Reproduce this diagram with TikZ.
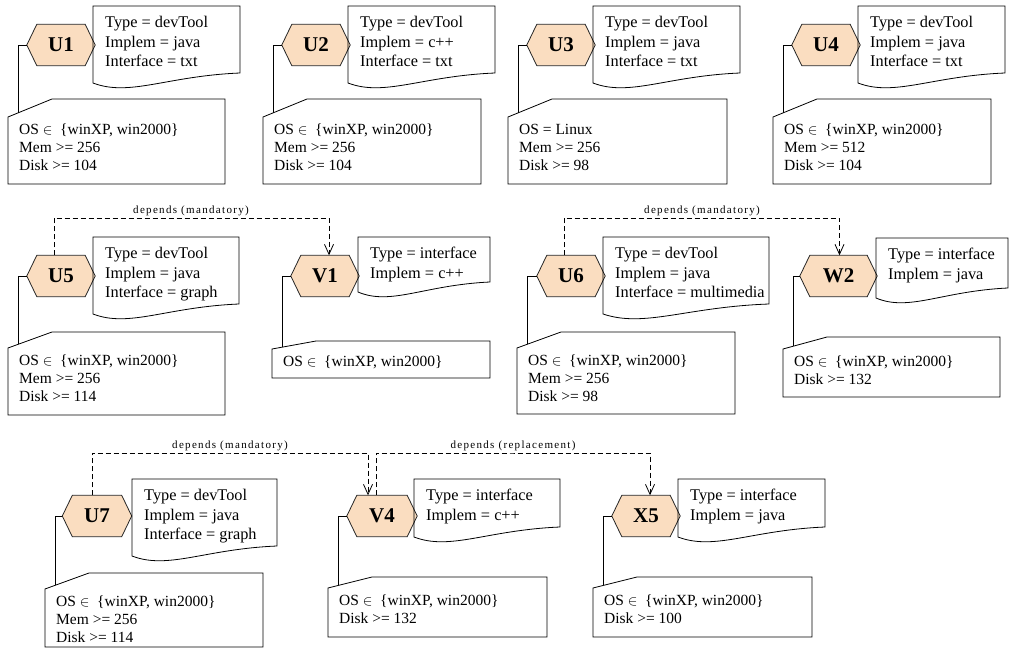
\documentclass[tikz,border=0pt]{standalone}
\usepackage{fontspec}
\setmainfont{Liberation Serif}
\newfontfamily\depfont[LetterSpace=12]{Liberation Serif}
\usetikzlibrary{arrows.meta,calc}
\pgfdeclarelayer{background}
\pgfsetlayers{background,main}
\definecolor{hexfill}{RGB}{250,221,192}
\tikzset{
 hexlbl/.style={minimum height=41pt, inner sep=0pt, font=\bfseries\fontsize{21}{21}\selectfont},
 hexshape/.style={draw=black!85, fill=hexfill, line width=0.8pt},
 boxline/.style={draw=black, line width=0.8pt},
 uptext/.style={anchor=north west, inner sep=0pt, align=left, font=\fontsize{16.3}{19.5}\selectfont},
 lowtext/.style={anchor=north west, inner sep=0pt, align=left, font=\fontsize{15.5}{18}\selectfont},
 conn/.style={draw=black, line width=0.8pt},
 dep/.style={draw=black, line width=0.8pt, dash pattern=on 5pt off 3pt},
 deparrow/.style={dep, -{Straight Barb[length=10pt,width=9pt]}},
 deplbl/.style={inner sep=0pt, above=2pt, font=\depfont\fontsize{11}{12}\selectfont},
}
\newcommand{\mkhex}[4]{%
  \node[hexlbl, minimum width=#4pt] (#1) at (#2,#3) {#1};
  \begin{pgfonlayer}{background}
  \draw[hexshape] (#1.west) -- ([xshift=10pt]#1.north west) -- ([xshift=-10pt]#1.north east) -- (#1.east) -- ([xshift=-10pt]#1.south east) -- ([xshift=10pt]#1.south west) -- cycle;
  \end{pgfonlayer}}
\newcommand{\mkup}[6]{%
  \draw[boxline] (#2,#4) -- (#3,#4) -- (#3,#5) .. controls ({#2+0.5*(#3-#2)},{#5+3}) and ({#2+0.25*(#3-#2)},{#5+24}) .. (#2,{#5+10}) -- cycle;
  \node[uptext] (#1u) at ({#2+12},{#4+10}) {#6};}
\newcommand{\mklow}[7]{%
  \draw[boxline] (#2,#5) -- ({#2+44},#4) -- (#3,#4) -- (#3,#6) -- (#2,#6) -- cycle;
  \coordinate (#1s) at ($(#2,#5)!0.23!({#2+44},#4)$);
  \node[lowtext] (#1l) at ({#2+11},{#5+7}) {#7};}
\newcommand{\mkconn}[1]{\draw[conn] (#1.west) -| (#1s);}
\newcommand{\OSwin}{OS $\in$ \ \{winXP, win2000\}}
\begin{document}
\begin{tikzpicture}[x=1pt,y=-1pt]
\begin{pgfonlayer}{background}
\fill[white] (0,0) rectangle (1012,658);
\end{pgfonlayer}
\useasboundingbox (0,0) rectangle (1012,658);
% ---------- row 1 ----------
\mkup{U1}{93}{240}{6}{73}{Type = devTool\\Implem = java\\Interface = txt}
\mklow{U1}{8}{225}{99}{117}{184}{\OSwin\\Mem >= 256\\Disk >= 104}
\mkhex{U1}{61}{45}{68}
\mkconn{U1}
\mkup{U2}{348}{495}{6}{73}{Type = devTool\\Implem = c++\\Interface = txt}
\mklow{U2}{263}{481}{99}{117}{184}{\OSwin\\Mem >= 256\\Disk >= 104}
\mkhex{U2}{316}{45}{68}
\mkconn{U2}
\mkup{U3}{593}{740}{6}{73}{Type = devTool\\Implem = java\\Interface = txt}
\mklow{U3}{508}{727}{99}{117}{184}{OS = Linux\\Mem >= 256\\Disk >= 98}
\mkhex{U3}{561}{45}{68}
\mkconn{U3}
\mkup{U4}{858}{1005}{6}{73}{Type = devTool\\Implem = java\\Interface = txt}
\mklow{U4}{773}{991}{99}{117}{184}{\OSwin\\Mem >= 512\\Disk >= 104}
\mkhex{U4}{826}{45}{68}
\mkconn{U4}
% ---------- row 2 ----------
\mkup{U5}{93}{239}{237}{304}{Type = devTool\\Implem = java\\Interface = graph}
\mklow{U5}{8}{225}{332}{348}{415}{\OSwin\\Mem >= 256\\Disk >= 114}
\mkhex{U5}{61}{276}{68}
\mkconn{U5}
\mkup{V1}{358}{490}{237}{282}{Type = interface\\Implem = c++}
\mklow{V1}{272}{490}{341}{349}{378}{\OSwin}
\mkhex{V1}{325}{276}{68}
\mkconn{V1}
\mkup{U6}{603}{769}{237}{304}{Type = devTool\\Implem = java\\Interface = multimedia}
\mklow{U6}{517}{735}{332}{348}{414}{\OSwin\\Mem >= 256\\Disk >= 98}
\mkhex{U6}{571}{276}{68}
\mkconn{U6}
\mkup{W2}{876}{1008}{238}{288}{Type = interface\\Implem = java}
\mklow{W2}{783}{1000}{337}{349}{397}{\OSwin\\Disk >= 132}
\mkhex{W2}{838.5}{276}{77}
\mkconn{W2}
% ---------- row 3 ----------
\mkup{U7}{132}{277}{479}{546}{Type = devTool\\Implem = java\\Interface = graph}
\mklow{U7}{45}{263}{573}{589}{647}{\OSwin\\Mem >= 256\\Disk >= 114}
\mkhex{U7}{97}{516}{69}
\mkconn{U7}
\mkup{V4}{414}{560}{479}{527}{Type = interface\\Implem = c++}
\mklow{V4}{328}{547}{577}{588}{637}{\OSwin\\Disk >= 132}
\mkhex{V4}{382}{516}{70}
\mkconn{V4}
\mkup{X5}{678}{825}{479}{527}{Type = interface\\Implem = java}
\mklow{X5}{593}{812}{577}{588}{637}{\OSwin\\Disk >= 100}
\mkhex{X5}{646}{516}{68}
\mkconn{X5}
% ---------- dependencies ----------
\coordinate (d1) at (191,218);
\coordinate (d2) at (702,218);
\coordinate (d3) at (230,453);
\coordinate (d4) at (513,453);
\draw[deparrow] ([xshift=-7pt]U5.north) |- (d1) -| ([xshift=4pt]V1.north);
\node[deplbl] (L1) at (d1) {depends (mandatory)};
\draw[deparrow] ([xshift=-7pt]U6.north) |- (d2) -| ([xshift=1pt]W2.north);
\node[deplbl] (L2) at (d2) {depends (mandatory)};
\draw[deparrow] ([xshift=-5pt]U7.north) |- (d3) -| ([xshift=-14pt]V4.north);
\node[deplbl] (L3) at (d3) {depends (mandatory)};
\draw[deparrow] ([xshift=-6pt]V4.north) |- (d4) -| ([xshift=4pt]X5.north);
\node[deplbl] (L4) at (d4) {depends (replacement)};
\end{tikzpicture}
\end{document}
